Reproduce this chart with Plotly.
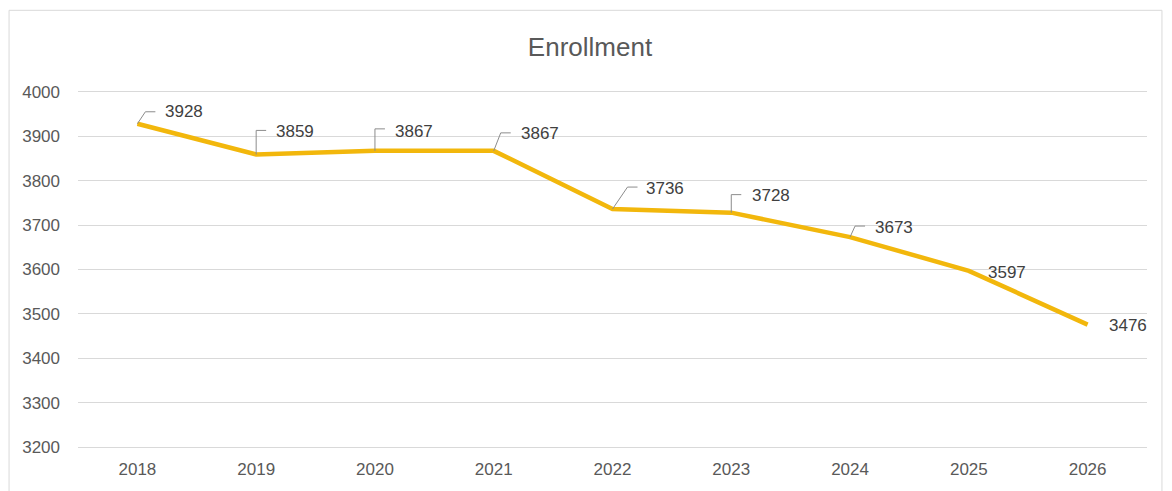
import plotly.graph_objects as go

years = ["2018", "2019", "2020", "2021", "2022", "2023", "2024", "2025", "2026"]
enrollment = [3928, 3859, 3867, 3867, 3736, 3728, 3673, 3597, 3476]
y_ticks = [3200, 3300, 3400, 3500, 3600, 3700, 3800, 3900, 4000]

# label layout (pixel offsets): elbow dx, dy (up), text dx, text dy, has leader
label_layout = [
    (8, 12, 26, 12, True),
    (0, 24, 18, 23, True),
    (0, 22, 18, 19, True),
    (7, 18, 25, 17, True),
    (15, 22, 31, 21, True),
    (0, 18, 19, 17, True),
    (5, 11, 23, 10, True),
    (0, 0, 17, -2, False),
    (0, 0, 19, -1, False),
]

LINE = "#F2B70C"
TXT = "#595959"
GRID = "#D9D9D9"
FONT = "Liberation Sans, Arial, sans-serif"

fig = go.Figure()
fig.add_trace(go.Scatter(
    x=years, y=enrollment, mode="lines",
    line=dict(color=LINE, width=4.5),
    hoverinfo="x+y", showlegend=False,
))

shapes = []
annotations = []
for i, (yr, val, (ex, ey, tx, ty, lead)) in enumerate(zip(years, enrollment, label_layout)):
    if lead:
        shapes.append(dict(
            type="path", xref="x", yref="y",
            xsizemode="pixel", ysizemode="pixel",
            xanchor=i, yanchor=val,
            path=f"M 0 0 L {ex} {ey} L {ex + 10} {ey}",
            line=dict(color="#8C8C8C", width=1),
        ))
    annotations.append(dict(
        x=i, y=val, xref="x", yref="y", text=str(val), showarrow=False,
        xanchor="left", yanchor="middle", xshift=tx, yshift=ty,
        font=dict(family=FONT, size=17, color="#404040"),
    ))

# outer chart border
shapes.append(dict(
    type="rect", xref="paper", yref="paper",
    x0=-0.0645, x1=1.0140, y0=-0.3, y1=1.222,
    line=dict(color="#D9D9D9", width=1), fillcolor="rgba(0,0,0,0)", layer="below",
))

fig.update_layout(
    width=1164, height=483,
    margin=dict(l=70, r=25, t=82, b=40),
    paper_bgcolor="white", plot_bgcolor="white",
    title=dict(text="Enrollment", x=0.5, xref="container", xanchor="center",
               y=0.92, yanchor="middle",
               font=dict(family=FONT, size=26, color=TXT)),
    xaxis=dict(type="category", range=[-0.5, 8.5], showgrid=False, zeroline=False,
               showline=False, ticks="", ticklabelstandoff=8,
               tickfont=dict(family=FONT, size=17, color=TXT),
               fixedrange=True),
    yaxis=dict(range=[3196, 4004], tickvals=y_ticks, showgrid=True, gridcolor=GRID,
               gridwidth=1, zeroline=False, showline=False, ticks="",
               ticklabelstandoff=17,
               tickfont=dict(family=FONT, size=17, color=TXT), fixedrange=True),
    shapes=shapes, annotations=annotations,
    font=dict(family=FONT),
)

fig.write_html("out.html")
